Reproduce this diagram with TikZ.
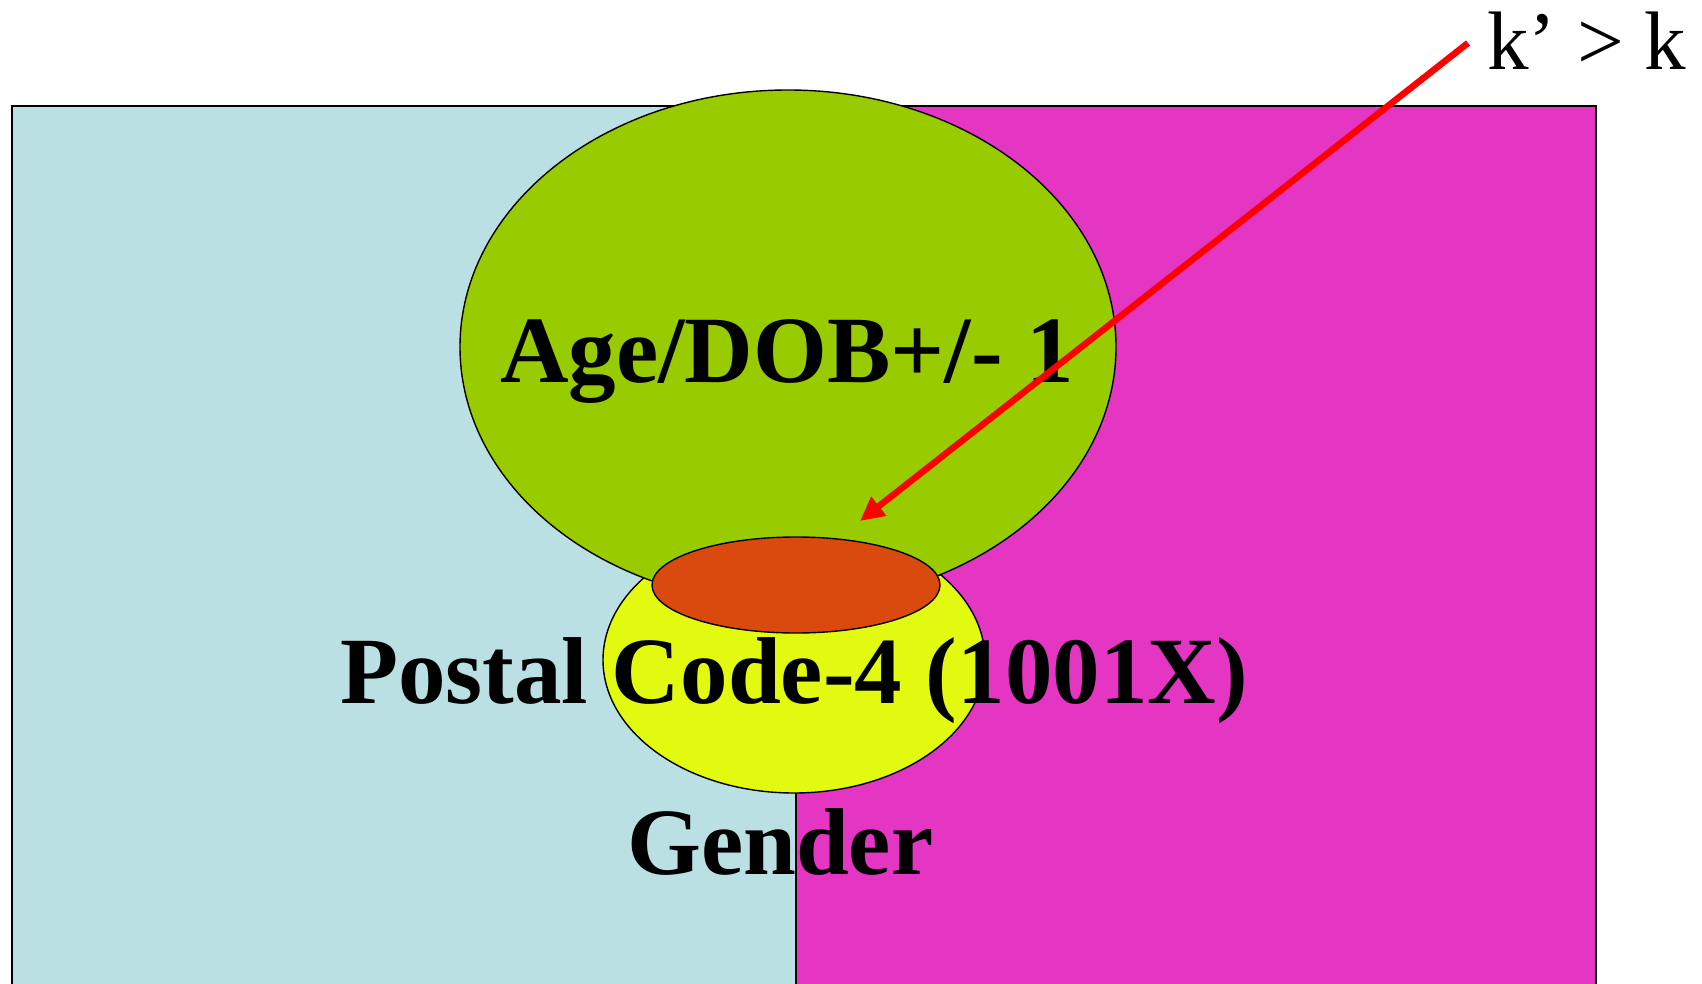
\documentclass[tikz,border=0pt]{standalone}
\usepackage{fontspec}
\setmainfont{Liberation Serif}
\usetikzlibrary{shapes.geometric,arrows.meta}
\definecolor{paleblue}{HTML}{BBE0E3}
\definecolor{hotpink}{HTML}{E535C3}
\definecolor{leafgreen}{HTML}{99CC00}
\definecolor{lemon}{HTML}{E1FA10}
\definecolor{rust}{HTML}{DA4A0E}
\tikzset{
  region/.style={draw=black, line width=1.6pt},
  blob/.style={ellipse, draw=black, line width=1.4pt, inner sep=0pt},
  bigbold/.style={inner sep=0pt, anchor=base west, font=\fontsize{95}{110}\selectfont\bfseries},
  pointer/.style={draw=red, line width=6.5pt, -{Triangle[length=24pt,width=23pt]}}
}
\begin{document}
\begin{tikzpicture}[x=1pt,y=-1pt]
\useasboundingbox (0,0) rectangle (1702,984);
\clip (0,0) rectangle (1702,984);
\fill[white] (0,0) rectangle (1702,984);
% two halves of the population
\draw[region, fill=paleblue] (12,106) rectangle (796,1000);
\draw[region, fill=hotpink] (796,106) rectangle (1596,1000);
% quasi-identifier sets (postal set lies beneath the age set)
\node[blob, fill=lemon, minimum width=382pt, minimum height=266pt] (postal) at (794,660) {};
\node[blob, fill=leafgreen, minimum width=656pt, minimum height=514pt] (age) at (788,347) {};
\node[blob, fill=rust, minimum width=288pt, minimum height=96pt] (overlap) at (796,585) {};
% labels
\node[bigbold] (agetxt) at (500,382) {Age/DOB+/- 1};
\node[bigbold] (posttxt) at (340,703) {Postal Code-4 (1001X)};
\node[bigbold] (gendertxt) at (627,874) {Gender};
\node[inner sep=0pt, anchor=base west, font=\fontsize{83}{100}\selectfont] (klabel) at (1487,70) {k’ > k};
% pointer to the intersection
\coordinate (tail) at (1468,43);
\coordinate (tip) at (860,521);
\draw[pointer] (tail) -- (tip);
\end{tikzpicture}
\end{document}
